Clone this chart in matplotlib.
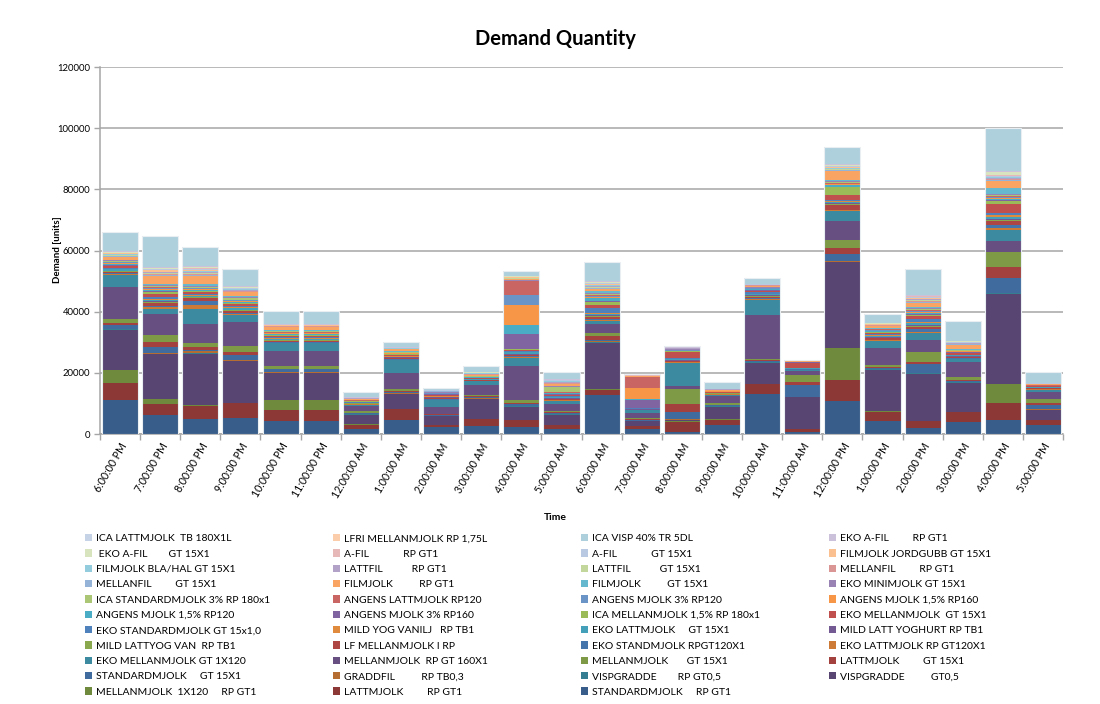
import numpy as np
import matplotlib
matplotlib.use("Agg")
import matplotlib.pyplot as plt
from matplotlib.patches import Patch
from matplotlib.ticker import MultipleLocator

plt.rcParams["font.family"] = ["Lato", "DejaVu Sans"]

times = ["6:00:00 PM", "7:00:00 PM", "8:00:00 PM", "9:00:00 PM", "10:00:00 PM", "11:00:00 PM",
         "12:00:00 AM", "1:00:00 AM", "2:00:00 AM", "3:00:00 AM", "4:00:00 AM", "5:00:00 AM",
         "6:00:00 AM", "7:00:00 AM", "8:00:00 AM", "9:00:00 AM", "10:00:00 AM", "11:00:00 AM",
         "12:00:00 PM", "1:00:00 PM", "2:00:00 PM", "3:00:00 PM", "4:00:00 PM", "5:00:00 PM"]

# demand per product and hour, listed from the bottom of the stack upwards
standardmjolk_rp = [11000, 6100, 5000, 5400, 4300, 4300, 1800, 4600, 2200, 2700, 2200, 1500, 12700, 1500, 700, 2900, 13100, 600, 10700, 4100, 2100, 3800, 4600, 2900]
lattmjolk_rp = [5600, 3700, 4300, 4600, 3700, 3700, 1300, 3500, 700, 2200, 2400, 1400, 1600, 1100, 3300, 1800, 3200, 900, 7000, 3200, 2000, 3300, 5700, 1600]
mellanmjolk_1x120 = [4400, 1600, 200, 200, 3000, 3000, 200, 200, 100, 100, 100, 100, 300, 100, 200, 100, 100, 100, 10400, 200, 200, 200, 6100, 100]
vispgradde_gt = [13000, 14700, 16800, 13600, 8900, 8900, 3000, 4700, 2800, 6400, 4100, 3300, 15200, 1400, 300, 4100, 6900, 10400, 28000, 13500, 15300, 9500, 29300, 3300]
vispgradde_rp = [300, 200, 200, 200, 200, 200, 100, 200, 100, 200, 300, 300, 300, 200, 200, 100, 200, 100, 300, 200, 200, 200, 300, 100]
graddfil_rp = [200, 200, 500, 300, 100, 100, 100, 100, 100, 100, 100, 100, 200, 100, 100, 100, 100, 100, 200, 100, 100, 100, 200, 100]
standardmjolk_gt = [1000, 2000, 400, 1400, 900, 900, 300, 600, 200, 300, 600, 300, 600, 200, 2400, 300, 300, 3900, 2200, 400, 3000, 300, 4700, 1400]
lattmjolk_gt = [800, 1600, 900, 1100, 300, 300, 200, 300, 200, 300, 300, 200, 1100, 200, 2500, 200, 200, 800, 2000, 300, 800, 400, 3800, 800]
mellanmjolk_gt = [1400, 2300, 1400, 2000, 900, 900, 600, 600, 300, 300, 1000, 300, 1000, 500, 4900, 400, 500, 2500, 2800, 700, 3000, 700, 4900, 1200]
mellanmjolk_160 = [10300, 7000, 6300, 7700, 4900, 4900, 1600, 5300, 2000, 3300, 11300, 2200, 2900, 1700, 1100, 2500, 14400, 1100, 5900, 5500, 4000, 4900, 3500, 2400]
eko_mellan_1x120 = [4100, 1400, 4800, 2300, 2500, 2500, 400, 4000, 2400, 1300, 2600, 1200, 1000, 700, 7600, 400, 4700, 300, 3300, 2200, 2200, 1000, 3600, 600]
eko_latt_rp120 = [200, 600, 1300, 300, 200, 200, 100, 200, 100, 100, 200, 100, 300, 50, 200, 100, 400, 100, 300, 200, 500, 200, 500, 100]
eko_stand_rp120 = [300, 400, 1400, 500, 200, 200, 100, 200, 200, 100, 300, 200, 500, 50, 200, 100, 500, 200, 300, 300, 800, 200, 1000, 100]
lf_mellanmjolk = [400, 1000, 900, 600, 400, 400, 100, 300, 300, 200, 300, 200, 500, 100, 200, 100, 300, 100, 1600, 400, 700, 300, 1600, 200]
mild_lattyog_van = [200, 300, 300, 300, 200, 200, 100, 200, 100, 100, 200, 200, 300, 50, 100, 50, 200, 100, 200, 200, 300, 100, 300, 100]
mild_latt_yoghurt = [200, 300, 200, 200, 200, 200, 100, 100, 200, 100, 300, 200, 400, 100, 100, 50, 300, 100, 300, 200, 400, 200, 300, 100]
eko_latt_gt = [400, 500, 300, 400, 300, 300, 100, 200, 200, 100, 400, 300, 500, 200, 300, 100, 300, 100, 400, 400, 700, 300, 700, 200]
mild_yog_vanilj = [200, 300, 300, 300, 200, 200, 100, 100, 100, 100, 200, 100, 300, 50, 100, 50, 200, 50, 300, 200, 400, 100, 400, 50]
eko_standard_gt = [300, 600, 300, 400, 300, 300, 100, 200, 200, 100, 300, 300, 1600, 100, 200, 100, 500, 100, 400, 300, 800, 200, 900, 100]
eko_mellan_gt = [500, 900, 500, 600, 400, 400, 200, 300, 300, 200, 300, 200, 1000, 50, 2200, 200, 300, 1600, 1700, 400, 1000, 400, 2900, 100]
ica_mellan = [300, 600, 400, 300, 200, 200, 100, 200, 100, 100, 300, 200, 800, 50, 100, 50, 200, 100, 2400, 200, 400, 200, 1000, 50]
angens_3_rp160 = [200, 300, 200, 200, 200, 200, 50, 100, 100, 50, 4800, 200, 300, 2700, 100, 50, 200, 50, 200, 200, 300, 100, 300, 50]
angens_15_rp120 = [300, 500, 300, 300, 200, 200, 50, 100, 100, 100, 3000, 200, 1000, 100, 100, 50, 200, 50, 600, 200, 400, 200, 400, 100]
angens_15_rp160 = [200, 300, 200, 200, 200, 200, 100, 100, 100, 50, 6500, 100, 300, 3800, 100, 50, 200, 50, 200, 200, 400, 100, 300, 50]
angens_3_rp120 = [300, 300, 200, 300, 200, 200, 50, 100, 100, 50, 3200, 100, 300, 50, 100, 50, 100, 50, 200, 200, 300, 100, 300, 50]
angens_latt_rp120 = [200, 400, 300, 200, 200, 200, 50, 100, 100, 100, 4600, 200, 300, 3500, 100, 50, 200, 50, 300, 200, 400, 200, 300, 50]
ica_standard = [400, 400, 300, 600, 300, 300, 100, 200, 100, 100, 200, 1800, 500, 50, 100, 50, 100, 50, 200, 200, 300, 200, 300, 50]
eko_minimjolk = [100, 200, 200, 200, 100, 100, 50, 100, 100, 50, 100, 100, 200, 50, 50, 50, 100, 30, 200, 100, 200, 100, 200, 50]
filmjolk_gt = [200, 500, 500, 300, 200, 200, 100, 100, 100, 100, 100, 200, 800, 50, 50, 50, 100, 30, 300, 200, 400, 200, 2000, 100]
filmjolk_rp = [1000, 2500, 2800, 1300, 1100, 1100, 200, 700, 200, 300, 300, 400, 500, 100, 100, 200, 400, 50, 3000, 600, 1300, 1400, 2400, 100]
mellanfil_gt = [200, 300, 300, 200, 100, 100, 50, 60, 50, 100, 100, 200, 300, 30, 50, 40, 60, 20, 300, 100, 300, 100, 200, 50]
mellanfil_rp = [100, 300, 300, 200, 100, 100, 50, 60, 50, 100, 100, 200, 200, 30, 50, 40, 60, 20, 200, 100, 300, 100, 300, 50]
lattfil_gt = [200, 300, 300, 200, 100, 100, 50, 60, 50, 50, 100, 200, 300, 30, 50, 40, 60, 20, 200, 100, 200, 100, 200, 50]
lattfil_rp = [100, 300, 300, 200, 100, 100, 50, 60, 50, 200, 100, 300, 200, 30, 50, 40, 60, 20, 200, 100, 300, 100, 200, 50]
filmjolk_bla = [200, 200, 300, 200, 50, 50, 50, 60, 50, 50, 100, 100, 300, 30, 50, 40, 60, 20, 200, 100, 200, 100, 200, 50]
filmjolk_jordgubb = [300, 400, 400, 200, 150, 150, 50, 60, 50, 100, 200, 200, 400, 30, 50, 40, 60, 20, 200, 100, 300, 200, 300, 50]
afil_gt = [100, 300, 300, 200, 50, 50, 50, 60, 50, 100, 50, 100, 300, 30, 50, 40, 60, 20, 300, 100, 200, 100, 200, 50]
afil_rp = [100, 300, 300, 200, 100, 100, 50, 60, 50, 100, 100, 200, 200, 30, 50, 40, 60, 20, 200, 100, 300, 200, 300, 50]
eko_afil_gt = [200, 300, 300, 200, 50, 50, 50, 60, 50, 50, 100, 100, 200, 30, 50, 40, 60, 20, 200, 100, 200, 100, 1000, 50]
eko_afil_rp = [200, 300, 400, 200, 100, 100, 50, 60, 50, 100, 50, 100, 300, 30, 50, 40, 60, 20, 300, 100, 300, 100, 400, 50]
ica_visp = [6000, 9600, 5800, 5400, 4000, 4000, 1400, 1600, 500, 1700, 1400, 2200, 5800, 200, 200, 2200, 1850, 100, 5500, 2700, 8000, 6300, 13600, 3500]
lfri_mellanmjolk = [300, 200, 200, 200, 150, 150, 200, 250, 100, 200, 100, 150, 200, 100, 100, 100, 150, 100, 200, 200, 200, 200, 300, 100]
ica_lattmjolk = [100, 100, 100, 100, 50, 50, 50, 50, 50, 50, 50, 50, 100, 50, 100, 50, 50, 50, 100, 100, 100, 100, 100, 50]

series = [
    ("STANDARDMJOLK     RP GT1", standardmjolk_rp, "#385d8a"),
    ("LATTMJOLK         RP GT1", lattmjolk_rp, "#8c3836"),
    ("MELLANMJOLK  1X120     RP GT1", mellanmjolk_1x120, "#6f8a3c"),
    ("VISPGRADDE          GT0,5", vispgradde_gt, "#594571"),
    ("VISPGRADDE        RP GT0,5", vispgradde_rp, "#357d91"),
    ("GRADDFIL          RP TB0,3", graddfil_rp, "#b66d31"),
    ("STANDARDMJOLK     GT 15X1", standardmjolk_gt, "#3f6b9e"),
    ("LATTMJOLK         GT 15X1", lattmjolk_gt, "#a3413e"),
    ("MELLANMJOLK       GT 15X1", mellanmjolk_gt, "#7e9a46"),
    ("MELLANMJOLK  RP GT 160X1", mellanmjolk_160, "#675081"),
    ("EKO MELLANMJOLK GT 1X120", eko_mellan_1x120, "#3b8aa0"),
    ("EKO LATTMJOLK RP GT120X1", eko_latt_rp120, "#cc7a35"),
    ("EKO STANDMJOLK RPGT120X1", eko_stand_rp120, "#4675ab"),
    ("LF MELLANMJOLK I RP", lf_mellanmjolk, "#ae4744"),
    ("MILD LATTYOG VAN  RP TB1", mild_lattyog_van, "#8aa94f"),
    ("MILD LATT YOGHURT RP TB1", mild_latt_yoghurt, "#735a92"),
    ("EKO LATTMJOLK     GT 15X1", eko_latt_gt, "#43a0b8"),
    ("MILD YOG VANILJ   RP TB1", mild_yog_vanilj, "#e08a3e"),
    ("EKO STANDARDMJOLK GT 15x1,0", eko_standard_gt, "#4f81bd"),
    ("EKO MELLANMJOLK  GT 15X1", eko_mellan_gt, "#c0504d"),
    ("ICA MELLANMJOLK 1,5% RP 180x1", ica_mellan, "#9bbb59"),
    ("ANGENS MJOLK 3% RP160", angens_3_rp160, "#8064a2"),
    ("ANGENS MJOLK 1,5% RP120", angens_15_rp120, "#4bacc6"),
    ("ANGENS MJOLK 1,5% RP160", angens_15_rp160, "#f79646"),
    ("ANGENS MJOLK 3% RP120", angens_3_rp120, "#6a94c6"),
    ("ANGENS LATTMJOLK RP120", angens_latt_rp120, "#c96663"),
    ("ICA STANDARDMJOLK 3% RP 180x1", ica_standard, "#abc776"),
    ("EKO MINIMJOLK GT 15X1", eko_minimjolk, "#9983b5"),
    ("FILMJOLK          GT 15X1", filmjolk_gt, "#65b8ce"),
    ("FILMJOLK          RP GT1", filmjolk_rp, "#f9a462"),
    ("MELLANFIL         GT 15X1", mellanfil_gt, "#95b3d7"),
    ("MELLANFIL         RP GT1", mellanfil_rp, "#d99694"),
    ("LATTFIL           GT 15X1", lattfil_gt, "#c3d69b"),
    ("LATTFIL           RP GT1", lattfil_rp, "#b3a2c7"),
    ("FILMJOLK BLA/HAL GT 15X1", filmjolk_bla, "#93cddd"),
    ("FILMJOLK JORDGUBB GT 15X1", filmjolk_jordgubb, "#fac090"),
    ("A-FIL             GT 15X1", afil_gt, "#b9c9e2"),
    ("A-FIL             RP GT1", afil_rp, "#e6b9b8"),
    (" EKO A-FIL        GT 15X1", eko_afil_gt, "#d7e4bd"),
    ("EKO A-FIL         RP GT1", eko_afil_rp, "#ccc1da"),
    ("ICA VISP 40% TR 5DL", ica_visp, "#aed0dd"),
    ("LFRI MELLANMJOLK RP 1,75L", lfri_mellanmjolk, "#fbcdaa"),
    ("ICA LATTMJOLK  TB 180X1L", ica_lattmjolk, "#c6d3e6"),
]

fig = plt.figure(figsize=(11, 7.04), dpi=100)
ax = fig.add_axes([0.0909, 0.3835, 0.8755, 0.5213])

x = np.arange(len(times))
bottom = np.zeros(len(times))
for name, vals, color in series:
    vals = np.array(vals, dtype=float)
    ax.bar(x, vals, 0.9, bottom=bottom, color=color, linewidth=0, zorder=3)
    bottom += vals
# pale outline round each whole column
ax.bar(x, bottom, 0.9, fill=False, edgecolor="#e9eef3", linewidth=0.8, zorder=4)

ax.set_xlim(-0.5, len(times) - 0.5)
ax.set_ylim(0, 120000)
ax.set_yticks(np.arange(0, 120001, 20000))
ax.set_yticklabels([str(v) for v in range(0, 120001, 20000)], fontsize=6.8)
ax.yaxis.grid(True, color="#a6a6a6", linewidth=1.1, zorder=0)
ax.set_axisbelow(True)

ax.set_xticks(x)
ax.set_xticklabels(times, rotation=60, ha="right", rotation_mode="anchor", fontsize=7.6)
ax.xaxis.set_minor_locator(MultipleLocator(1, offset=0.5))
ax.tick_params(axis="x", which="major", length=0, pad=5)
ax.tick_params(axis="x", which="minor", length=4, color="#a6a6a6", width=1)
ax.tick_params(axis="y", length=4, color="#a6a6a6", width=1, pad=3)

for side in ("top", "right"):
    ax.spines[side].set_visible(False)
for side in ("left", "bottom"):
    ax.spines[side].set_color("#a6a6a6")
    ax.spines[side].set_linewidth(1.1)

fig.text(0.505, 0.945, "Demand Quantity", ha="center", va="center", fontsize=14.5, fontweight="bold")
fig.text(0.052, 0.645, "Demand [units]", ha="center", va="center", rotation=90, fontsize=7, fontweight="bold")
fig.text(0.505, 0.265, "Time", ha="center", va="center", fontsize=7.5, fontweight="bold")

# legend: top of the stack first, laid out row by row in four columns
legend_items = [(name, color) for name, vals, color in reversed(series)]
col_x = [85, 333, 581, 829]
for c in range(4):
    items = legend_items[c::4]
    handles = [Patch(facecolor=col, edgecolor="none") for _, col in items]
    labels = [lab for lab, _ in items]
    fig.legend(handles, labels, loc="upper left", bbox_to_anchor=(col_x[c] / 1100, 1 - 534 / 704),
               frameon=False, fontsize=7.5, borderpad=0, handlelength=0.7, handleheight=0.7,
               handletextpad=0.35, labelspacing=0.58, borderaxespad=0)

fig.savefig("out.png", dpi=100)
